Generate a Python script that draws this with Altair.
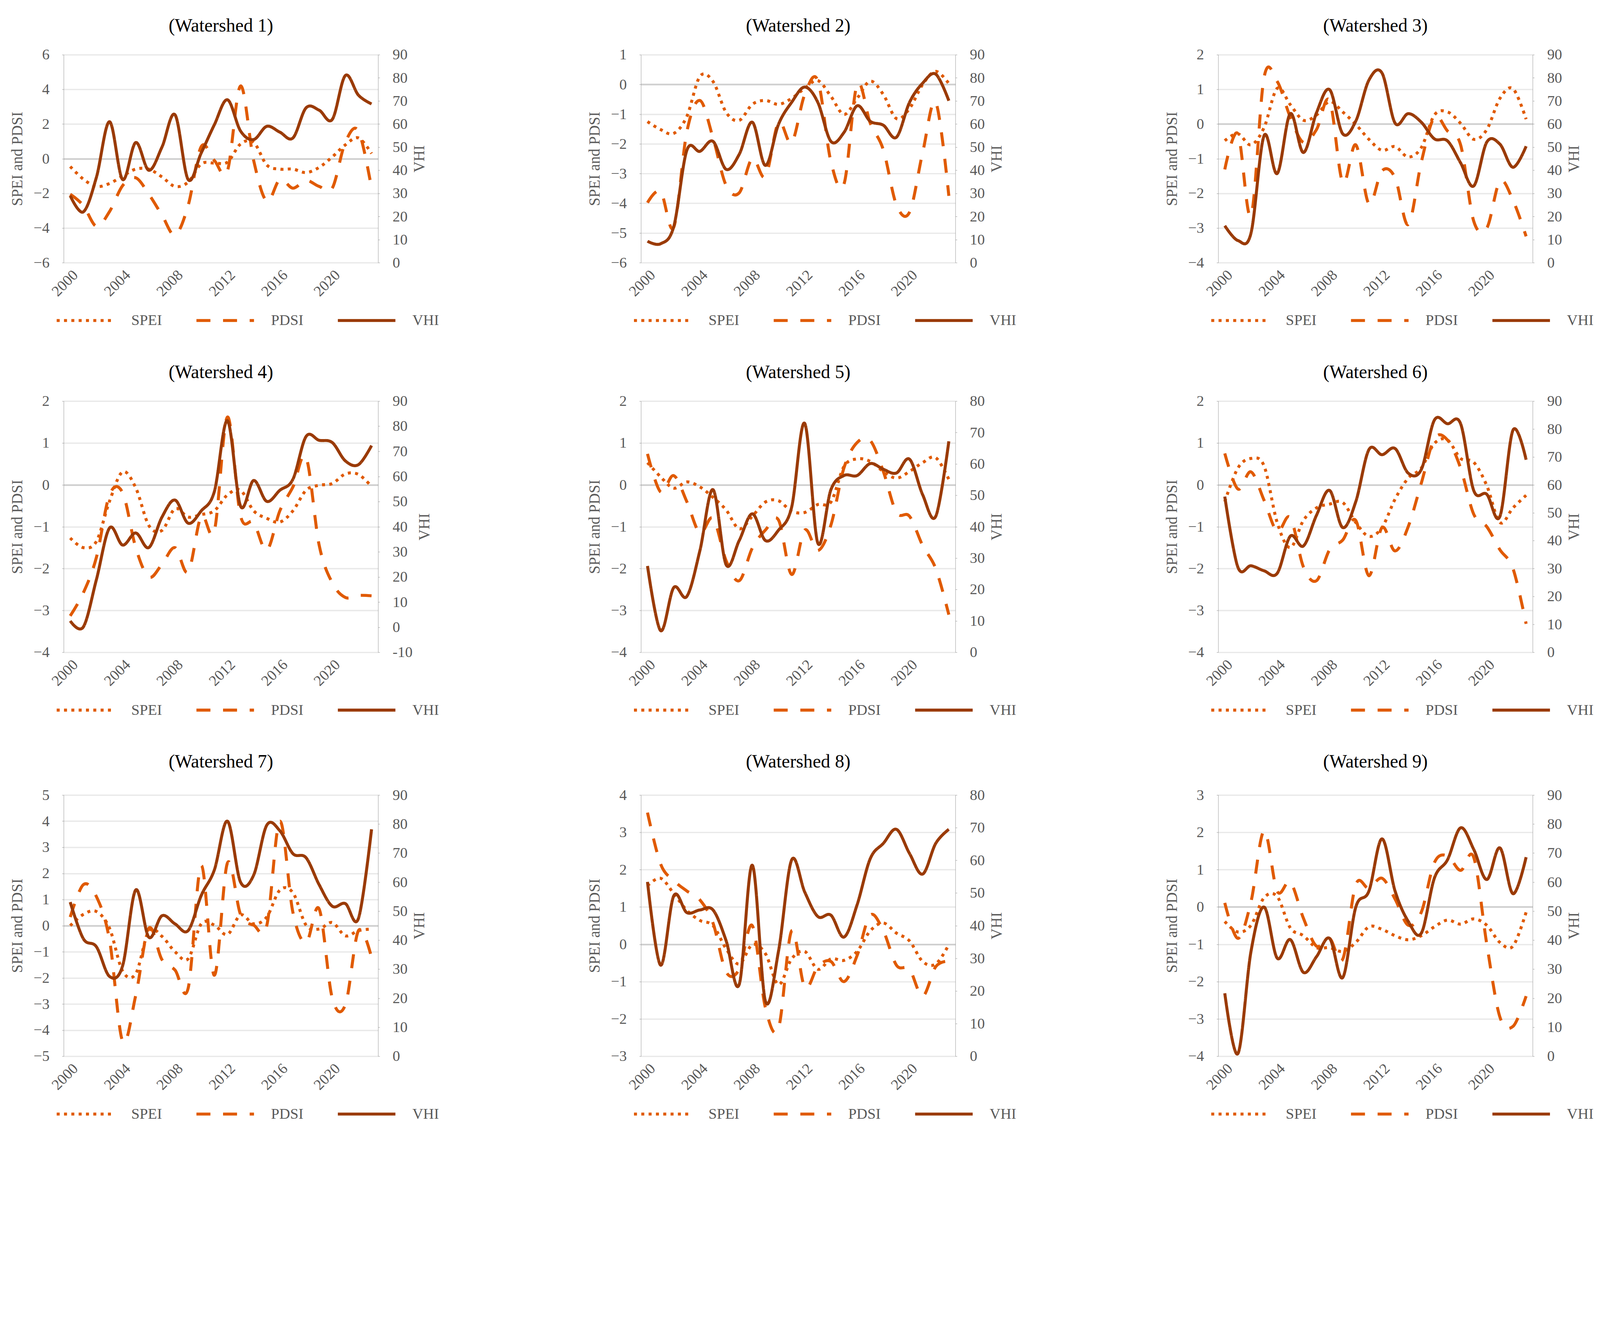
import altair as alt
import pandas as pd

years = list(range(2000, 2024))

titles = ["(Watershed 1)", "(Watershed 2)", "(Watershed 3)", "(Watershed 4)", "(Watershed 5)",
          "(Watershed 6)", "(Watershed 7)", "(Watershed 8)", "(Watershed 9)"]

spei_1 = [-0.45, -1.18, -1.6, -1.43, -1.0, -0.6, -0.6, -1.05, -1.6, -1.35, -0.3, -0.25, -0.2, 0.85, 0.95, -0.36, -0.6, -0.6, -0.8, -0.5, 0.1, 0.8, 1.2, 0.3]
pdsi_1 = [-2.05, -2.7, -3.9, -3.05, -1.55, -1.1, -2.05, -3.25, -4.4, -2.7, 0.7, -0.1, -0.7, 4.2, -0.1, -2.45, -1.2, -1.7, -1.25, -1.6, -1.7, 0.95, 1.6, -1.7]
vhi_1 = [29, 22, 37, 61, 36, 52, 40, 50, 64, 36, 47.5, 59.7, 70.5, 57, 53.3, 59, 56.5, 54, 67, 66, 62, 81, 72.5, 68.7]

spei_2 = [-1.25, -1.52, -1.65, -1.08, 0.27, 0.1, -0.94, -1.21, -0.67, -0.54, -0.67, -0.47, -0.13, 0.13, -0.4, -1.01, -0.47, 0.11, -0.34, -1.15, -0.81, 0.0, 0.44, 0.03]
pdsi_2 = [-3.98, -3.6, -4.81, -1.6, -0.54, -1.8, -3.4, -3.65, -2.49, -3.1, -1.28, -1.96, -0.34, 0.13, -2.6, -3.35, 0.0, -1.3, -2.2, -4.05, -4.3, -2.3, -0.6, -3.75]
vhi_2 = [9.3, 8.2, 15.6, 48.6, 48.2, 52.5, 40.4, 46.9, 60.8, 42.1, 59.9, 69.4, 76, 69.4, 52.5, 56.4, 67.9, 61.2, 59.5, 54.3, 69.4, 77.7, 81.6, 70.1]

spei_3 = [-0.48, -0.28, -0.6, -0.1, 1.03, 0.56, 0.11, 0.26, 0.65, 0.35, -0.01, -0.44, -0.76, -0.65, -0.95, -0.68, 0.26, 0.35, 0.02, -0.44, -0.16, 0.74, 1.02, 0.14]
pdsi_3 = [-1.31, -0.28, -2.64, 1.35, 1.23, 0.2, -0.53, -0.16, 0.68, -1.68, -0.6, -2.3, -1.35, -1.55, -2.9, -1.1, 0.2, -0.2, -0.6, -2.8, -3.0, -1.65, -2.2, -3.24]
vhi_3 = [16, 9.6, 12.8, 55, 38.6, 64.5, 47.7, 64.9, 74.9, 55.8, 61.3, 79, 82.1, 60.4, 64.5, 60.8, 53.6, 52.7, 43.2, 33.2, 52.2, 51.3, 41.3, 50.4]

spei_4 = [-1.27, -1.5, -1.35, -0.39, 0.31, -0.07, -0.97, -1.09, -0.57, -0.77, -0.71, -0.62, -0.24, -0.13, -0.62, -0.8, -0.89, -0.62, -0.13, -0.01, 0.03, 0.26, 0.25, -0.04]
pdsi_4 = [-3.13, -2.58, -1.73, -0.24, -0.19, -1.5, -2.2, -1.9, -1.5, -2.08, -0.75, -1.1, 1.62, -0.74, -0.9, -1.56, -0.62, -0.05, 0.66, -1.44, -2.34, -2.69, -2.64, -2.65]
vhi_4 = [2.5, 0.1, 19, 39.5, 32.7, 37.5, 31.7, 43.8, 50.6, 41.4, 46.3, 54, 82.2, 48.2, 58.4, 50.1, 54.5, 58.9, 75.9, 74.4, 73.5, 66.2, 64.7, 72.3]

spei_5 = [0.53, 0.19, -0.08, 0.07, -0.05, -0.3, -0.6, -1.05, -0.75, -0.41, -0.38, -0.63, -0.66, -0.47, -0.41, 0.44, 0.62, 0.56, 0.32, 0.16, 0.32, 0.53, 0.65, 0.13]
pdsi_5 = [0.74, -0.17, 0.22, -0.4, -1.15, -0.8, -1.81, -2.29, -1.51, -1.08, -0.84, -2.14, -1.08, -1.57, -0.96, 0.41, 1.01, 1.06, 0.32, -0.66, -0.75, -1.45, -2.0, -3.1]
vhi_5 = [27.5, 6.9, 20.6, 17.8, 32.4, 51.8, 27.9, 35.6, 44.1, 35.6, 38.9, 46.2, 72.9, 34.8, 51.8, 56.3, 56.3, 60.1, 58.3, 57.1, 61.5, 50.2, 43.3, 67.2]

spei_6 = [-0.4, 0.4, 0.63, 0.45, -0.9, -1.5, -0.85, -0.55, -0.46, -0.42, -0.9, -1.23, -1.02, -0.34, 0.16, 0.4, 0.99, 1.07, 0.63, 0.54, -0.02, -0.9, -0.55, -0.25]
pdsi_6 = [0.75, -0.1, 0.31, -0.37, -1.11, -0.78, -1.96, -2.29, -1.55, -1.32, -0.85, -2.17, -1.02, -1.58, -1.0, 0.04, 1.1, 1.07, 0.4, -0.7, -1.0, -1.55, -2.0, -3.32]
vhi_6 = [55.8, 30.5, 31, 29.2, 28.3, 41.6, 38.1, 49.1, 58, 44.7, 54, 72.6, 70.8, 73, 64.2, 65.5, 83.2, 81.9, 81.9, 58, 56.6, 48.7, 79.6, 69]

spei_7 = [0.0, 0.43, 0.54, -0.1, -1.74, -1.84, -0.2, -0.41, -1.0, -1.27, 0.07, 0.02, -0.34, 0.41, 0.07, 0.33, 1.36, 1.26, 0.02, -0.13, 0.12, -0.39, -0.19, -0.13]
pdsi_7 = [0.33, 1.57, 1.11, -0.55, -4.43, -2.67, -0.1, -1.3, -1.7, -2.4, 2.3, -1.9, 2.4, 0.43, 0.02, 0.0, 4.0, 0.5, -0.65, 0.64, -2.77, -3.03, -0.19, -1.22]
vhi_7 = [53.1, 40.5, 37.7, 27.5, 31.2, 57.3, 41, 48.4, 45.6, 43.3, 55.4, 64.2, 81, 60, 62.4, 79.6, 77.7, 69.8, 68.4, 59.1, 51.7, 52.6, 47.5, 78.2]

spei_8 = [1.57, 1.77, 1.36, 0.91, 0.64, 0.5, -0.12, -0.53, -0.01, -0.25, -1.08, -0.39, -0.19, -0.67, -0.39, -0.43, -0.19, 0.36, 0.57, 0.3, 0.09, -0.46, -0.53, -0.01]
pdsi_8 = [3.53, 2.15, 1.71, 1.43, 1.19, 0.57, -0.74, -0.67, 0.5, -1.7, -2.25, 0.36, -1.15, -0.6, -0.46, -1.0, -0.3, 0.78, 0.36, -0.56, -0.67, -1.39, -0.6, -0.45]
vhi_8 = [53.4, 27.9, 49.1, 44, 44.8, 44.8, 35.4, 22, 58.5, 16.9, 32.2, 60.1, 50.3, 42.8, 43.2, 36.5, 46.4, 60.5, 65.2, 69.5, 62.1, 55.8, 65.2, 69.5]

spei_9 = [-0.39, -0.67, -0.49, 0.25, 0.28, -0.56, -0.77, -1.09, -1.09, -1.19, -0.95, -0.53, -0.6, -0.77, -0.88, -0.77, -0.53, -0.35, -0.46, -0.32, -0.49, -0.95, -1.05, -0.14]
pdsi_9 = [0.11, -0.84, 0.14, 2.04, 0.42, 0.67, -0.3, -1.05, -0.84, -1.4, 0.6, 0.5, 0.77, 0.21, -0.49, -0.14, 1.19, 1.37, 0.98, 1.33, -1.0, -2.95, -3.2, -2.39]
vhi_9 = [21.7, 0.9, 36.1, 51.4, 33.8, 40.2, 28.9, 34.3, 40.6, 27.1, 51.4, 56.9, 74.9, 56.9, 46.5, 42.4, 61.4, 67.7, 78.7, 71.3, 60.9, 71.8, 56, 68.6]

spei_all = [spei_1, spei_2, spei_3, spei_4, spei_5, spei_6, spei_7, spei_8, spei_9]
pdsi_all = [pdsi_1, pdsi_2, pdsi_3, pdsi_4, pdsi_5, pdsi_6, pdsi_7, pdsi_8, pdsi_9]
vhi_all = [vhi_1, vhi_2, vhi_3, vhi_4, vhi_5, vhi_6, vhi_7, vhi_8, vhi_9]

left_axes = [(-6, 6, 2), (-6, 1, 1), (-4, 2, 1), (-4, 2, 1), (-4, 2, 1), (-4, 2, 1), (-5, 5, 1), (-3, 4, 1), (-4, 3, 1)]
right_axes = [(0, 90, 10), (0, 90, 10), (0, 90, 10), (-10, 90, 10), (0, 80, 10), (0, 90, 10), (0, 90, 10), (0, 80, 10), (0, 90, 10)]
row_heights = [625, 755, 785]
title_offsets = [35, 35, 48]
series_names = ["SPEI", "PDSI", "VHI"]

ORANGE = "#E05A00"
BROWN = "#9A3A05"
GRAY = "#595959"
FONT = "Liberation Serif"
W = 945
SYM = 173.0 / 3.0


def make_panel(i):
    h = row_heights[i // 3]
    df = pd.DataFrame({
        "year": years * 3,
        "series": ["SPEI"] * 24 + ["PDSI"] * 24 + ["VHI"] * 24,
        "value": spei_all[i] + pdsi_all[i] + vhi_all[i],
    })
    base = alt.Chart(df)
    x = alt.X("year:Q",
              scale=alt.Scale(domain=[1999.5, 2023.5], nice=False, zero=False),
              axis=alt.Axis(values=list(range(2000, 2023, 2)), format="d", labelAngle=-45,
                            title=None, grid=False, domain=False, ticks=False, labelPadding=14))
    legend = alt.Legend(title=None, orient="bottom", offset=30,
                        direction="horizontal", symbolType="M-3,0H3", symbolSize=SYM * SYM,
                        symbolStrokeWidth=9, symbolOffset=32, labelOffset=104, columnPadding=85,
                        labelFontSize=45, labelFont=FONT, labelColor=GRAY)
    color = alt.Color("series:N", scale=alt.Scale(domain=series_names, range=[ORANGE, ORANGE, BROWN]), legend=legend)
    dash = alt.StrokeDash("series:N", scale=alt.Scale(domain=series_names, range=[[9, 13], [42, 38], [1, 0]]), legend=legend)
    lo, hi, st = left_axes[i]
    rlo, rhi, rst = right_axes[i]
    left = base.transform_filter("datum.series !== 'VHI'").mark_line(
        interpolate="cardinal", strokeWidth=9).encode(
        x=x,
        y=alt.Y("value:Q", scale=alt.Scale(domain=[lo, hi], nice=False, zero=False),
                axis=alt.Axis(values=list(range(lo, hi + 1, st)), format="d", orient="left",
                              title="SPEI and PDSI", grid=True,
                              gridColor={"condition": {"test": "datum.value === 0", "value": "#CFCFCF"}, "value": "#E9E9E9"},
                              gridWidth={"condition": {"test": "datum.value === 0", "value": 5}, "value": 4},
                              labelPadding=38, titlePadding=24)),
        color=color, strokeDash=dash)
    right = base.transform_filter("datum.series === 'VHI'").mark_line(
        interpolate="cardinal", strokeWidth=9).encode(
        x=x,
        y=alt.Y("value:Q", scale=alt.Scale(domain=[rlo, rhi], nice=False, zero=False),
                axis=alt.Axis(values=list(range(rlo, rhi + 1, rst)), format="d", orient="right",
                              title="VHI", grid=False, labelPadding=38, titlePadding=14,
                              titleAngle=270, titleBaseline="top",
                              labelExpr="replace(datum.label, '\u2212', '-')")),
        color=color, strokeDash=dash)
    return alt.layer(left, right).resolve_scale(y="independent").properties(
        width=W, height=h,
        title=alt.TitleParams(titles[i], font=FONT, fontSize=56, color="black", fontWeight="normal",
                              anchor="middle", frame="group", offset=title_offsets[i // 3]))


panels = [make_panel(i) for i in range(9)]
rows = [alt.hconcat(*panels[r * 3:(r + 1) * 3], spacing=445).resolve_scale(color="independent", strokeDash="independent")
        for r in range(3)]
chart = alt.vconcat(*rows, spacing=105).resolve_scale(
    color="independent", strokeDash="independent"
).configure_axis(
    labelFont=FONT, labelFontSize=45, labelColor=GRAY,
    titleFont=FONT, titleFontSize=46, titleColor=GRAY, titleFontWeight="normal",
).configure_view(stroke=None).properties(
    padding={"left": 20, "top": -214, "right": 10, "bottom": -175}, background="white")

chart.save("out.html", embed_options={"renderer": "svg", "actions": False})
